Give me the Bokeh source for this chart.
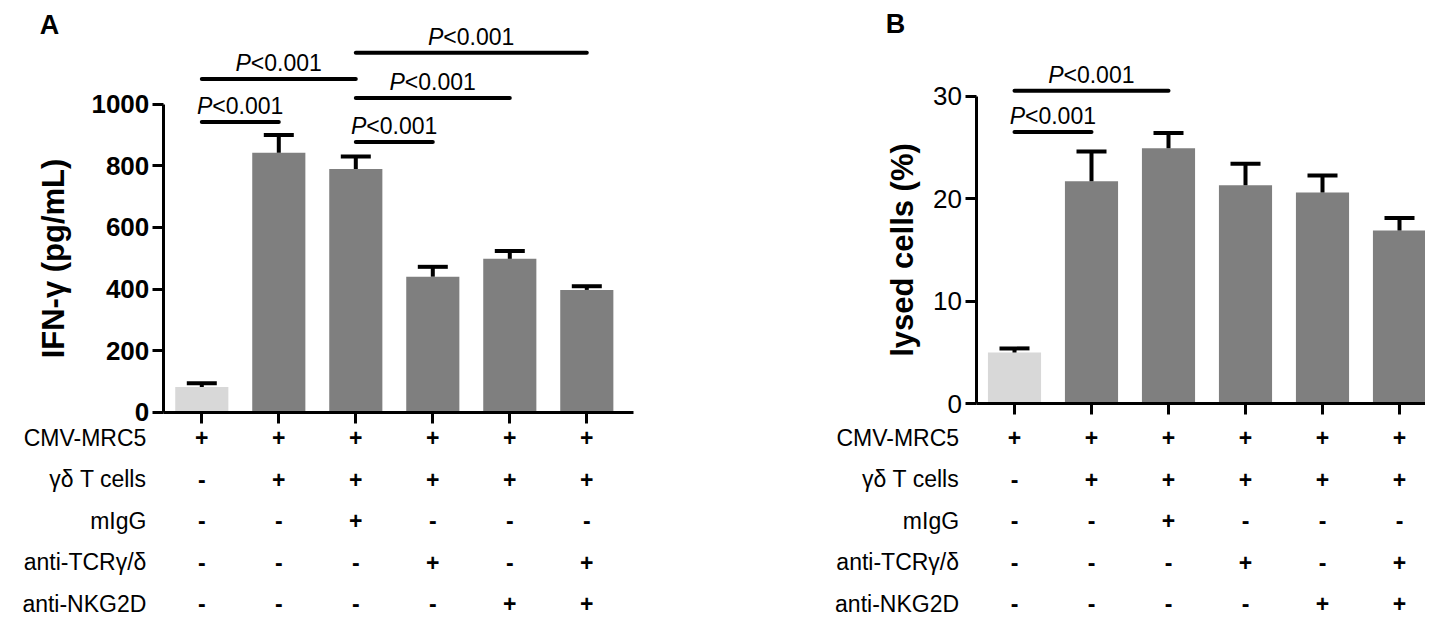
from bokeh.plotting import figure
from bokeh.layouts import row
from bokeh.models import ColumnDataSource, FixedTicker, Range1d, Whisker, TeeHead
from bokeh.core.properties import value
from bokeh.embed import file_html
from bokeh.resources import INLINE

# ---------------- data ----------------
groups = [0, 1, 2, 3, 4, 5]

ifn_mean = [82, 842, 790, 440, 498, 397]
ifn_err = [12, 58, 40, 32, 25, 12]

lysed_mean = [5.0, 21.7, 24.9, 21.3, 20.6, 16.9]
lysed_err = [0.4, 2.9, 1.5, 2.1, 1.65, 1.2]

bar_colors = ["#d8d8d8", "#7f7f7f", "#7f7f7f", "#7f7f7f", "#7f7f7f", "#7f7f7f"]

row_labels = ["CMV-MRC5", "γδ T cells", "mIgG", "anti-TCRγ/δ", "anti-NKG2D"]
cmv_row = ["+", "+", "+", "+", "+", "+"]
gd_row = ["-", "+", "+", "+", "+", "+"]
migg_row = ["-", "-", "+", "-", "-", "-"]
tcr_row = ["-", "-", "-", "+", "-", "+"]
nkg_row = ["-", "-", "-", "-", "+", "+"]
table_rows = [cmv_row, gd_row, migg_row, tcr_row, nkg_row]

ifn_ticks = [0, 200, 400, 600, 800, 1000]
lysed_ticks = [0, 10, 20, 30]

ifn_pairs = [(0, 1), (0, 2), (2, 3), (2, 4), (2, 5)]
ifn_bracket_y = [942, 1082, 877, 1020, 1167]
lysed_pairs = [(0, 1), (0, 2)]
lysed_bracket_y = [26.5, 30.5]
p_label = "P"
p_value = "<0.001"

# ---------------- layout constants ----------------
H = 621
TOP = 0
SP = 77.0
ROW_IMG_Y = [437, 478.5, 520, 561.5, 603]
FONT = value("Liberation Sans")


def make_panel(left_img, width, bar0_img, zero_img, ppu, mean, err, ticks,
               ymax, ylabel, tick_bold, tick_size, pairs, bracket_y,
               letter, letter_img, label_standoff):
    def to_x(img_x):
        return (img_x - bar0_img) / SP

    def to_y(img_y):
        return (zero_img - img_y) / ppu

    p = figure(width=width, height=H,
               x_range=Range1d(to_x(left_img), to_x(left_img + width)),
               y_range=Range1d(to_y(TOP + H), to_y(TOP)),
               output_backend="svg", toolbar_location=None,
               min_border=0, outline_line_color=None)
    p.grid.visible = False
    p.background_fill_color = "white"
    p.border_fill_color = "white"

    upper = [m + e for m, e in zip(mean, err)]
    src = ColumnDataSource(dict(x=groups, top=mean, upper=upper, color=bar_colors))
    p.vbar(x="x", top="top", bottom=0, width=0.69, fill_color="color",
           line_color=None, source=src)
    p.add_layout(Whisker(source=src, base="x", lower="top", upper="upper",
                         dimension="height", line_width=4, line_color="black",
                         upper_head=TeeHead(size=30, line_width=4, line_color="black"),
                         lower_head=None, level="overlay"))

    # y axis
    yax = p.yaxis[0]
    yax.fixed_location = -0.5
    yax.bounds = (0, ymax)
    yax.ticker = FixedTicker(ticks=ticks)
    yax.minor_tick_line_color = None
    yax.axis_line_width = 3
    yax.major_tick_line_width = 3
    yax.major_tick_out = 11
    yax.major_tick_in = 0
    yax.major_label_standoff = 3
    yax.major_label_text_font = "Liberation Sans"
    yax.major_label_text_font_size = tick_size
    yax.major_label_text_font_style = "bold" if tick_bold else "normal"
    yax.major_label_text_color = "black"
    yax.axis_label = ylabel
    yax.axis_label_text_font = "Liberation Sans"
    yax.axis_label_text_font_size = "31px"
    yax.axis_label_text_font_style = "bold"
    yax.axis_label_text_color = "black"
    yax.axis_label_standoff = label_standoff

    # x axis
    xax = p.xaxis[0]
    xax.fixed_location = 0
    xax.bounds = (-0.5, 5.6)
    xax.ticker = FixedTicker(ticks=groups)
    xax.major_label_overrides = {g: "" for g in groups}
    xax.minor_tick_line_color = None
    xax.axis_line_width = 3
    xax.major_tick_line_width = 3
    xax.major_tick_out = 11
    xax.major_tick_in = 0

    # significance brackets
    x0 = [a for a, b in pairs]
    x1 = [b for a, b in pairs]
    xc = [(a + b) / 2 for a, b in pairs]
    p.segment(x0=x0, y0=bracket_y, x1=x1, y1=bracket_y, line_width=4,
              line_color="black", line_cap="round")
    p.text(x=xc, y=bracket_y, text=[p_label] * len(pairs), x_offset=-28, y_offset=-3,
           text_align="right", text_baseline="bottom", text_font=FONT,
           text_font_size="23px", text_font_style="italic", text_color="black")
    p.text(x=xc, y=bracket_y, text=[p_value] * len(pairs), x_offset=-28, y_offset=-3,
           text_align="left", text_baseline="bottom", text_font=FONT,
           text_font_size="23px", text_color="black")

    # condition table
    ry = [to_y(v) for v in ROW_IMG_Y]
    p.text(x=[-0.72] * len(row_labels), y=ry, text=row_labels, text_align="right",
           text_baseline="middle", text_font=FONT, text_font_size="23px",
           text_color="black")
    tx, ty, tt = [], [], []
    for yy, signs in zip(ry, table_rows):
        for g, s in zip(groups, signs):
            tx.append(g)
            ty.append(yy)
            tt.append(s)
    p.text(x=tx, y=ty, text=tt, text_align="center", text_baseline="middle",
           text_font=FONT, text_font_size="23px", text_font_style="bold",
           text_color="black")

    # panel letter
    p.text(x=[to_x(letter_img[0])], y=[to_y(letter_img[1])], text=[letter],
           text_align="center", text_baseline="alphabetic", text_font=FONT,
           text_font_size="27px", text_font_style="bold", text_color="black")
    return p


pA = make_panel(0, 790, 201.3, 411.7, 0.308, ifn_mean, ifn_err, ifn_ticks, 1000,
                "IFN-γ (pg/mL)", True, "26px", ifn_pairs, ifn_bracket_y,
                "A", (49, 24), 18)
pB = make_panel(790, 635, 1014.0, 403.3, 10.26, lysed_mean, lysed_err, lysed_ticks, 30,
                "lysed cells (%)", False, "26px", lysed_pairs, lysed_bracket_y,
                "B", (895, 23.5), 11)

layout = row(pA, pB)
open("out.html", "w").write(file_html(layout, INLINE))
